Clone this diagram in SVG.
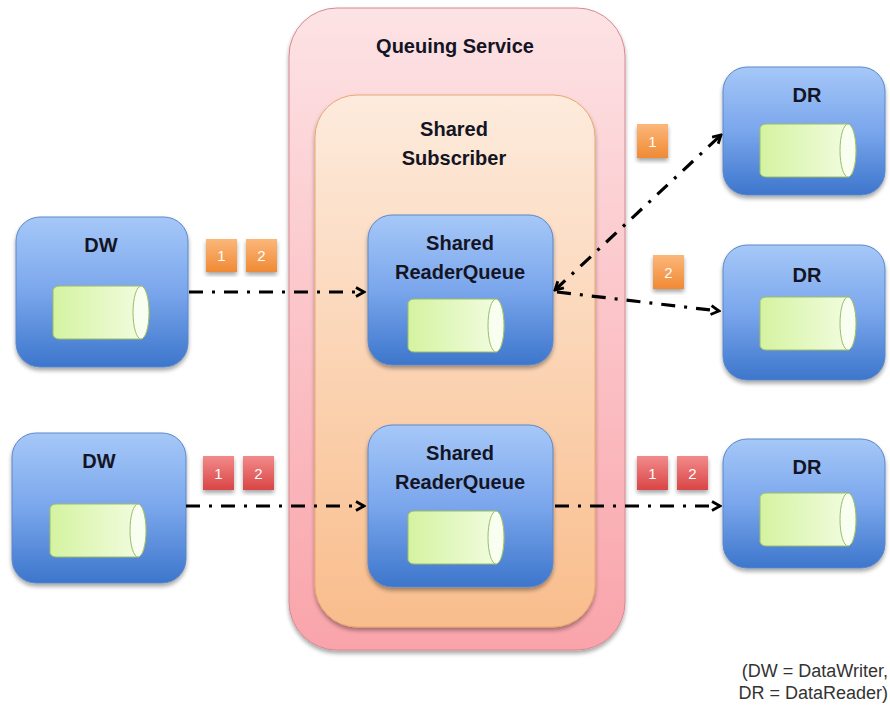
<svg xmlns="http://www.w3.org/2000/svg" width="890" height="706" viewBox="0 0 890 706">
<defs>
<linearGradient id="gBlue" x1="0" y1="0" x2="0" y2="1">
<stop offset="0" stop-color="#a6c8f8"/><stop offset="0.5" stop-color="#7aa6ec"/><stop offset="1" stop-color="#3d76cc"/>
</linearGradient>
<linearGradient id="gPink" x1="0" y1="0" x2="0" y2="1">
<stop offset="0" stop-color="#fde3e5"/><stop offset="1" stop-color="#f9a4aa"/>
</linearGradient>
<linearGradient id="gPeach" x1="0" y1="0" x2="0" y2="1">
<stop offset="0" stop-color="#fdebdd"/><stop offset="1" stop-color="#f9bd8c"/>
</linearGradient>
<linearGradient id="gCyl" x1="0" y1="0" x2="1" y2="0">
<stop offset="0" stop-color="#d4f3a0"/><stop offset="1" stop-color="#f4fde4"/>
</linearGradient>
<linearGradient id="gOr" x1="0" y1="0" x2="0" y2="1">
<stop offset="0" stop-color="#fbb77a"/><stop offset="1" stop-color="#f08a34"/>
</linearGradient>
<linearGradient id="gRed" x1="0" y1="0" x2="0" y2="1">
<stop offset="0" stop-color="#f38a8a"/><stop offset="1" stop-color="#d94545"/>
</linearGradient>
<filter id="sh" x="-10%" y="-10%" width="120%" height="125%">
<feGaussianBlur in="SourceAlpha" stdDeviation="2"/><feOffset dy="3"/>
<feComponentTransfer><feFuncA type="linear" slope="0.35"/></feComponentTransfer>
<feMerge><feMergeNode/><feMergeNode in="SourceGraphic"/></feMerge>
</filter>
<marker id="ah" viewBox="0 0 12 12" refX="10" refY="6" markerWidth="12" markerHeight="12" markerUnits="userSpaceOnUse" orient="auto-start-reverse">
<path d="M2 1.5 L10 6 L2 10.5" fill="none" stroke="#000" stroke-width="2.8" stroke-linejoin="miter"/>
</marker>
<g id="cyl">
<path d="M6 0 H88 A8 26.5 0 0 1 88 53 H6 A6 5 0 0 1 0 47 V6 A6 5 0 0 1 6 0 Z" fill="url(#gCyl)" stroke="#9cbc68" stroke-width="1"/>
<ellipse cx="88" cy="26.5" rx="8" ry="26.5" fill="#f8fff0" stroke="#9cbc68" stroke-width="1"/>
</g>
</defs>
<style>
.blue{fill:url(#gBlue);stroke:#5b87c9;stroke-width:1}
.t{font-family:"Liberation Sans",Arial,sans-serif;font-weight:bold;font-size:20px;fill:#141424;text-anchor:middle}
.n{font-family:"Liberation Sans",Arial,sans-serif;font-size:15px;fill:#fff;text-anchor:middle}
.c{fill:none;stroke:#000;stroke-width:3.2;stroke-dasharray:14 9 3 9}
.leg{font-family:"Liberation Sans",Arial,sans-serif;font-size:18px;fill:#333;text-anchor:end}
</style>
<rect width="890" height="706" fill="#fff"/>

<g id="queuing-service">
<rect x="289" y="8" width="336" height="642" rx="48" fill="url(#gPink)" stroke="#d88890" stroke-width="1" filter="url(#sh)"/>
<text class="t" x="455" y="53">Queuing Service</text>
</g>
<g id="shared-subscriber">
<rect x="315" y="95" width="280" height="532" rx="42" fill="url(#gPeach)" stroke="#eba870" stroke-width="1" filter="url(#sh)"/>
<text class="t" x="454" y="136">Shared</text>
<text class="t" x="454" y="165">Subscriber</text>
</g>

<g id="rq1">
<rect class="blue" x="368" y="215" width="185" height="150" rx="24" filter="url(#sh)"/>
<text class="t" x="460" y="250">Shared</text>
<text class="t" x="460" y="279">ReaderQueue</text>
<use href="#cyl" x="408" y="299"/>
</g>
<g id="rq2">
<rect class="blue" x="368" y="425" width="185" height="162" rx="24" filter="url(#sh)"/>
<text class="t" x="460" y="460">Shared</text>
<text class="t" x="460" y="489">ReaderQueue</text>
<use href="#cyl" x="408" y="511"/>
</g>

<g id="dw1">
<rect class="blue" x="16" y="217" width="172" height="150" rx="24" filter="url(#sh)"/>
<text class="t" x="101" y="252">DW</text>
<use href="#cyl" x="53" y="286"/>
</g>
<g id="dw2">
<rect class="blue" x="12" y="433" width="174" height="150" rx="24" filter="url(#sh)"/>
<text class="t" x="99" y="468">DW</text>
<use href="#cyl" x="50" y="504"/>
</g>

<g id="dr1">
<rect class="blue" x="723" y="67" width="162" height="128" rx="24" filter="url(#sh)"/>
<text class="t" x="807" y="102">DR</text>
<use href="#cyl" x="760" y="124"/>
</g>
<g id="dr2">
<rect class="blue" x="723" y="245" width="162" height="135" rx="24" filter="url(#sh)"/>
<text class="t" x="807" y="282">DR</text>
<use href="#cyl" x="760" y="297"/>
</g>
<g id="dr3">
<rect class="blue" x="723" y="439" width="162" height="129" rx="24" filter="url(#sh)"/>
<text class="t" x="807" y="474">DR</text>
<use href="#cyl" x="760" y="493"/>
</g>

<g id="connectors">
<path class="c" d="M189 292 H364" marker-end="url(#ah)"/>
<path class="c" d="M186 506 H364" marker-end="url(#ah)"/>
<path class="c" d="M555 290 L721 135" marker-start="url(#ah)" marker-end="url(#ah)"/>
<path class="c" d="M557 292 L719 311" marker-end="url(#ah)"/>
<path class="c" d="M555 506 H720" marker-end="url(#ah)"/>
</g>

<g id="tokens">
<rect x="206" y="239" width="31" height="33" fill="url(#gOr)" filter="url(#sh)"/><text class="n" x="221.5" y="261">1</text>
<rect x="246" y="239" width="31" height="33" fill="url(#gOr)" filter="url(#sh)"/><text class="n" x="261.5" y="261">2</text>
<rect x="637" y="124" width="31" height="34" fill="url(#gOr)" filter="url(#sh)"/><text class="n" x="652.5" y="147">1</text>
<rect x="653" y="255" width="31" height="34" fill="url(#gOr)" filter="url(#sh)"/><text class="n" x="668.5" y="278">2</text>
<rect x="203" y="456" width="31" height="34" fill="url(#gRed)" filter="url(#sh)"/><text class="n" x="218.5" y="479">1</text>
<rect x="243" y="456" width="31" height="34" fill="url(#gRed)" filter="url(#sh)"/><text class="n" x="258.5" y="479">2</text>
<rect x="637" y="456" width="31" height="34" fill="url(#gRed)" filter="url(#sh)"/><text class="n" x="652.5" y="479">1</text>
<rect x="677" y="456" width="31" height="34" fill="url(#gRed)" filter="url(#sh)"/><text class="n" x="692.5" y="479">2</text>
</g>

<g id="legend">
<text class="leg" x="888" y="677">(DW = DataWriter,</text>
<text class="leg" x="888" y="699">DR = DataReader)</text>
</g>
</svg>
